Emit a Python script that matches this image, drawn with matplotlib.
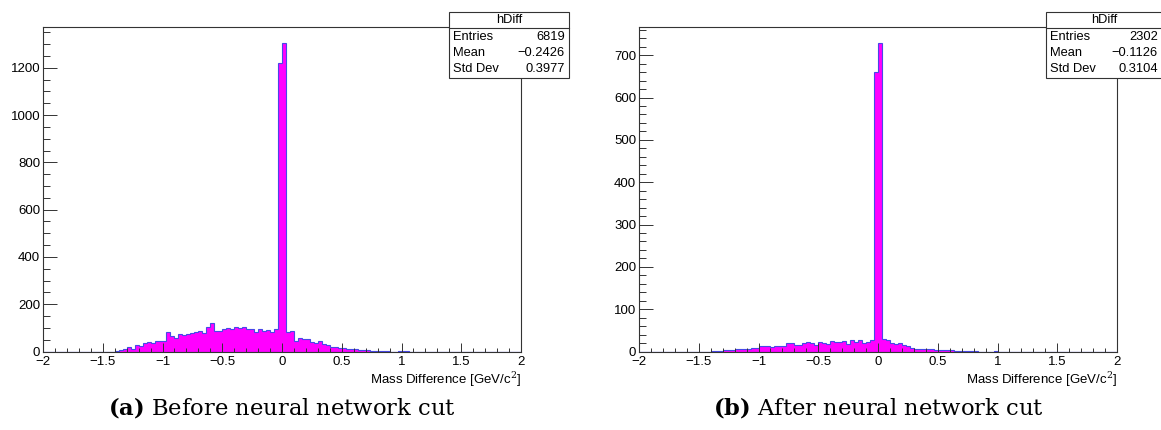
import numpy as np
import matplotlib.pyplot as plt
from matplotlib.patches import Rectangle
from matplotlib.lines import Line2D
from matplotlib.ticker import MultipleLocator

plt.rcParams['font.family'] = ['Liberation Sans', 'DejaVu Sans']
plt.rcParams['mathtext.fontset'] = 'custom'
plt.rcParams['mathtext.rm'] = 'DejaVu Serif'
plt.rcParams['mathtext.bf'] = 'DejaVu Serif:bold'

# histogram: 120 bins from -2 to 2, counts given from bin 18 on
n_bins = 120
x_range = (-2, 2)
first_bin = 18

counts_before = [3, 6, 9, 18, 12, 26, 22, 36, 41, 35, 46, 45, 44,
                 82, 64, 55, 73, 70, 72, 78, 82, 88, 78, 104, 120,
                 87, 86, 94, 101, 96, 105, 99, 104, 96, 95, 82, 96, 87, 92, 84, 95,
                 1220, 1305,
                 84, 87, 46, 58, 52, 51, 41, 37, 45, 30, 27, 20, 19, 16, 14, 12,
                 11, 9, 8, 7, 5, 4, 3, 4, 3, 2, 0, 0, 2, 1, 1]
counts_after = [1, 2, 2, 3, 4, 4, 6, 6, 7, 7, 8, 9, 12, 14, 13, 10, 12, 14, 13,
                21, 19, 16, 15, 20, 23,
                20, 16, 22, 21, 17, 25, 22, 23, 24, 17, 26, 22, 26, 20, 23, 28,
                660, 730,
                29, 26, 20, 17, 20, 15, 12, 9, 7, 6, 6, 5, 5, 4, 4, 4, 3, 3, 2, 2,
                1, 1, 1, 1, 0, 0, 0, 0, 1, 0, 0]

stats_before = [("Entries", "6819"), ("Mean", "\u22120.2426"), ("Std Dev", "0.3977")]
stats_after = [("Entries", "2302"), ("Mean", "\u22120.1126"), ("Std Dev", "0.3104")]
captions = [r"$\mathbf{(a)}$ Before neural network cut",
            r"$\mathbf{(b)}$ After neural network cut"]

W, H = 1161, 430


def fx(x):
    return x / W


def fy(y):
    return 1 - y / H


fig = plt.figure(figsize=(W / 100, H / 100), dpi=100)


def panel(left, counts, ymax, major, minor, stats, box_left, box_right, caption):
    top, bottom, width = 27.3, 351.5, 478
    ax = fig.add_axes([fx(left), fy(bottom), width / W, (bottom - top) / H])
    edges = np.linspace(x_range[0], x_range[1], n_bins + 1)
    centers = (edges[:-1] + edges[1:]) / 2
    full = np.zeros(n_bins)
    full[first_bin:first_bin + len(counts)] = counts
    ax.hist(centers, bins=edges, weights=full, histtype='stepfilled',
            facecolor='#ff00ff', edgecolor='#4848e8', linewidth=0.8)
    ax.set_xlim(*x_range)
    ax.set_ylim(0, ymax)
    ax.xaxis.set_major_locator(MultipleLocator(0.5))
    ax.xaxis.set_minor_locator(MultipleLocator(0.1))
    ax.yaxis.set_major_locator(MultipleLocator(major))
    ax.yaxis.set_minor_locator(MultipleLocator(minor))
    ax.xaxis.set_major_formatter(lambda v, p: f"{v:g}".replace("-", "\u2212"))
    ax.tick_params(axis='x', which='major', direction='in', length=6.5, width=0.7,
                   labelsize=9.5, pad=3.5, colors='#333333', labelcolor='black')
    ax.tick_params(axis='x', which='minor', direction='in', length=3, width=0.7, colors='#333333')
    ax.tick_params(axis='y', which='major', direction='in', length=10, width=0.7,
                   labelsize=9.5, pad=2, colors='#333333', labelcolor='black')
    ax.tick_params(axis='y', which='minor', direction='in', length=5, width=0.7, colors='#333333')
    for s in ax.spines.values():
        s.set_color('#333333')
        s.set_linewidth(0.8)
    ax.set_xlabel("Mass Difference [GeV/c$^{2}$]", fontsize=9.5, loc='right', labelpad=1)

    # ROOT-like stats box
    box_top, row_h = 12, 16.4
    box_bottom = box_top + row_h * 4
    fig.add_artist(Rectangle((fx(box_left), fy(box_bottom)), (box_right - box_left) / W,
                             (box_bottom - box_top) / H, transform=fig.transFigure,
                             facecolor='white', edgecolor='#333333', linewidth=0.8, zorder=5))
    fig.add_artist(Line2D([fx(box_left), fx(box_right)], [fy(box_top + row_h)] * 2,
                          transform=fig.transFigure, color='#333333', linewidth=0.8, zorder=6))
    fig.text(fx((box_left + box_right) / 2), fy(box_top + row_h / 2), "hDiff",
             ha='center', va='center', fontsize=9.3, zorder=7)
    for i, (name, val) in enumerate(stats):
        yc = fy(box_top + row_h * (i + 1.5))
        fig.text(fx(box_left + 4), yc, name, ha='left', va='center', fontsize=9.3, zorder=7)
        fig.text(fx(box_right - 4), yc, val, ha='right', va='center', fontsize=9.3, zorder=7)

    fig.text(fx(left + width / 2), fy(415), caption, ha='center', va='baseline',
             fontsize=16.3, family='DejaVu Serif')


panel(43, counts_before, 1371, 200, 50, stats_before, 449, 569, captions[0])
panel(639, counts_after, 766, 100, 20, stats_after, 1046, 1162, captions[1])

fig.savefig("out.png", dpi=100)
